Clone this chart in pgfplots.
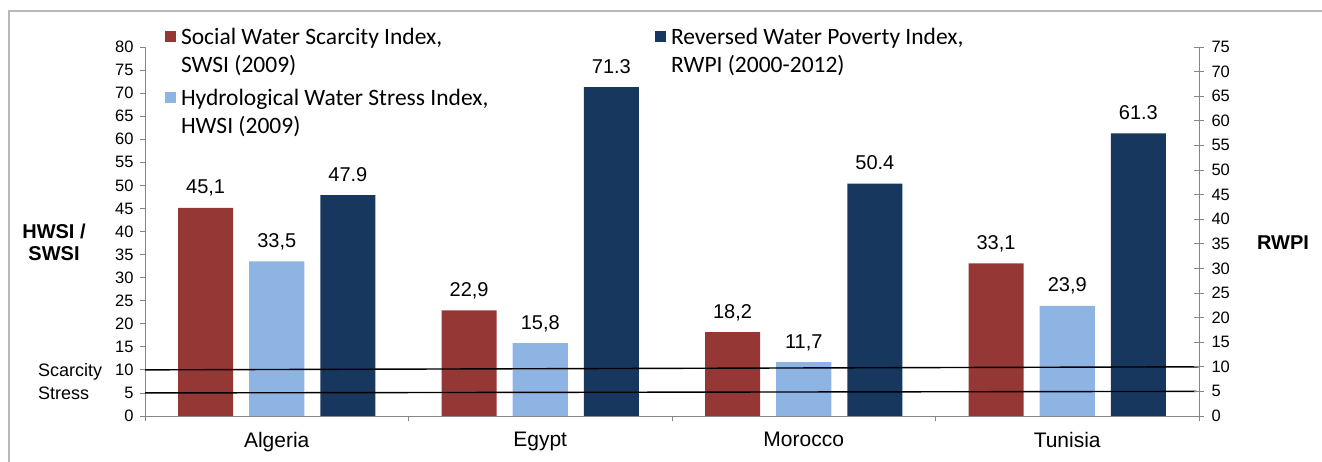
\documentclass[border=0pt]{standalone}
\usepackage{pgfplots}
\pgfplotsset{compat=1.18}
\usepackage{fontspec}
\setmainfont{Liberation Sans}
\newfontfamily\calibri{Carlito}
\definecolor{swsi}{HTML}{953735}
\definecolor{hwsi}{HTML}{8EB4E3}
\definecolor{rwpi}{HTML}{17375E}
\definecolor{axgray}{HTML}{868686}
\newcommand\legtext[2][469pt]{\makebox[#1][l]{\begin{tabular}[t]{@{}l@{}}#2\end{tabular}}}
\begin{document}
\begin{tikzpicture}[x=1pt,y=1pt]
\path[use as bounding box] (0,0) rectangle (1322,462);
\draw[color=black!28, line width=1.5pt] (9,-20) rectangle (1340,451);
\begin{axis}[
  at={(145pt,46pt)}, anchor=south west,
  scale only axis, width=1054pt, height=369pt,
  xmin=-0.5, xmax=3.5, ymin=0, ymax=80,
  axis x line*=bottom, axis y line*=left,
  axis line style={axgray, line width=0.8pt, -},
  ytick={0,5,...,80},
  xtick={0,1,2,3}, xticklabels={Algeria,Egypt,Morocco,Tunisia},
  major x tick style={draw=none},
  minor xtick={-0.5,0.5,1.5,2.5,3.5},
  minor tick length=5pt,
  tick align=outside,
  major tick length=5pt,
  tick style={axgray, line width=0.8pt},
  yticklabel style={font=\fontsize{16.5}{19}\selectfont, xshift=-3pt},
  xticklabel style={font=\fontsize{21}{24}\selectfont, yshift=-8pt},
  /pgf/number format/assume math mode=true,
  legend columns=2,
  legend style={at={(0.019,1.0612)}, anchor=north west, draw=none, fill=none,
    inner sep=0pt, outer sep=0pt, column sep=5pt, row sep=40pt,
    font=\calibri\fontsize{23.5}{28}\selectfont, nodes={inner sep=0pt}},
  legend cell align=left,
  legend image code/.code={\fill[#1] (0pt,-7pt) rectangle (11pt,4pt);},
  every node near coord/.append style={font=\fontsize{20}{23}\selectfont, anchor=base, inner sep=0pt, yshift=14pt, text=black},
]
\addplot[ybar, fill=swsi, draw=none, bar width=0.209, bar shift=0,
  nodes near coords={\pgfmathprintnumber[fixed,fixed zerofill,precision=1,use comma]{\pgfplotspointmeta}}]
  coordinates {(-0.27,45.1) (0.73,22.9) (1.73,18.2) (2.73,33.1)};
\addlegendentry{\legtext{Social Water Scarcity Index,\\SWSI (2009)}}
\addplot[ybar, fill=rwpi, draw=none, bar width=0.209, bar shift=0,
  nodes near coords={\pgfmathprintnumber[fixed,fixed zerofill,precision=1,use period]{\pgfplotspointmeta}}]
  coordinates {(0.27,47.9) (1.27,71.3) (2.27,50.4) (3.27,61.3)};
\addlegendentry{\legtext[300pt]{Reversed Water Poverty Index,\\RWPI (2000-2012)}}
\addplot[ybar, fill=hwsi, draw=none, bar width=0.209, bar shift=0,
  nodes near coords={\pgfmathprintnumber[fixed,fixed zerofill,precision=1,use comma]{\pgfplotspointmeta}}]
  coordinates {(0,33.5) (1,15.8) (2,11.7) (3,23.9)};
\addlegendentry{\legtext{Hydrological Water Stress Index,\\HWSI (2009)}}
\addplot[black, line width=1.4pt, forget plot] coordinates {(-0.5,10) (3.5,10.667)};
\addplot[black, line width=1.4pt, forget plot] coordinates {(-0.5,5) (3.49,5.333)};
\end{axis}
\begin{axis}[
  at={(145pt,46pt)}, anchor=south west,
  scale only axis, width=1054pt, height=369pt,
  xmin=-0.5, xmax=3.5, ymin=0, ymax=75,
  axis y line*=right, hide x axis,
  axis line style={axgray, line width=0.8pt, -},
  ytick={0,5,...,75},
  tick align=center, major tick length=10pt,
  tick style={axgray, line width=0.8pt},
  yticklabel style={font=\fontsize{16.5}{19}\selectfont, xshift=4pt},
  /pgf/number format/assume math mode=true,
]
\addplot[draw=none] coordinates {(0,0)};
\end{axis}
\node[font=\bfseries\fontsize{20}{22}\selectfont, align=center] at (54,220) {HWSI /\\SWSI};
\node[font=\bfseries\fontsize{20}{22}\selectfont] at (1283,219) {RWPI};
\node[anchor=base west, inner sep=0pt, font=\fontsize{18}{21}\selectfont] at (38,85.6) {Scarcity};
\node[anchor=base west, inner sep=0pt, font=\fontsize{18}{21}\selectfont] at (38,62.6) {Stress};
\end{tikzpicture}
\end{document}
